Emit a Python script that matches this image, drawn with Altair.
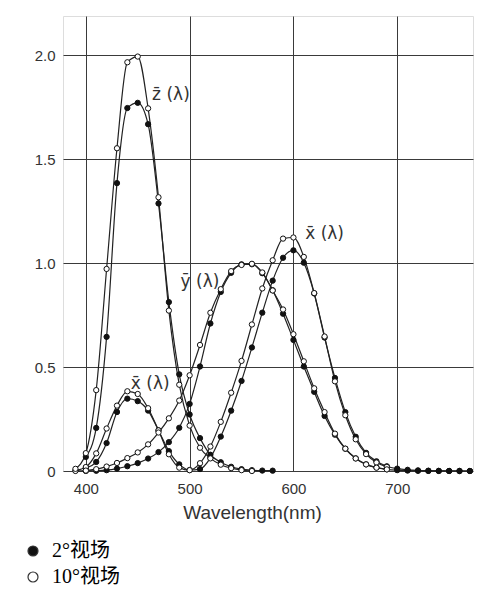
import altair as alt
import pandas as pd

# CIE 1931 2° observer (shown 400-770 nm)
wl2 = list(range(400, 780, 10))
x2 = [0.01431, 0.04351, 0.13438, 0.2839, 0.34828, 0.3362, 0.2908, 0.19536, 0.09564, 0.03201,
      0.0049, 0.0093, 0.06327, 0.1655, 0.2904, 0.43345, 0.5945, 0.7621, 0.9163, 1.0263,
      1.0622, 1.0026, 0.85445, 0.6424, 0.4479, 0.2835, 0.1649, 0.0874, 0.04677, 0.0227,
      0.01136, 0.00579, 0.0029, 0.00144, 0.00069, 0.00033, 0.00017, 0.00008]
y2 = [0.0004, 0.00121, 0.004, 0.0116, 0.023, 0.038, 0.06, 0.09098, 0.13902, 0.20802,
      0.323, 0.503, 0.71, 0.862, 0.954, 0.99495, 0.995, 0.952, 0.87, 0.757,
      0.631, 0.503, 0.381, 0.265, 0.175, 0.107, 0.061, 0.032, 0.017, 0.00821,
      0.0041, 0.00209, 0.00105, 0.00052, 0.00025, 0.00012, 0.00006, 0.00003]
wl2z = list(range(400, 590, 10))
z2 = [0.06785, 0.2074, 0.6456, 1.3856, 1.74706, 1.77211, 1.6692, 1.28764, 0.81295, 0.46518,
      0.272, 0.1582, 0.07825, 0.04216, 0.0203, 0.00875, 0.0039, 0.0021, 0.00165]

# CIE 1964 10° observer (shown 390-690 nm)
wl10 = list(range(390, 700, 10))
x10 = [0.00236, 0.01911, 0.08474, 0.20449, 0.31468, 0.38373, 0.3707, 0.30227, 0.19562, 0.08051,
       0.01617, 0.00382, 0.03747, 0.11775, 0.23649, 0.37677, 0.52983, 0.70522, 0.87866, 1.01416,
       1.11852, 1.12399, 1.03048, 0.8563, 0.64747, 0.43157, 0.26833, 0.15257, 0.08126, 0.04085,
       0.01994]
y10 = [0.00025, 0.002, 0.00876, 0.02139, 0.03868, 0.06208, 0.08946, 0.1282, 0.18519, 0.25359,
       0.33913, 0.46078, 0.60674, 0.76176, 0.87521, 0.96199, 0.99176, 0.99734, 0.95555, 0.86893,
       0.77741, 0.65834, 0.52796, 0.39806, 0.28349, 0.17983, 0.10763, 0.06028, 0.0318, 0.01591,
       0.00775]
wl10z = list(range(390, 570, 10))
z10 = [0.01048, 0.08601, 0.38937, 0.97254, 1.55348, 1.96728, 1.9948, 1.74537, 1.31756, 0.77213,
       0.41525, 0.2185, 0.11204, 0.06071, 0.03045, 0.01368, 0.00399, 0.0]

legend_labels = ["2°视场", "10°视场"]

rows = []
def add(wls, vals, fn, obs):
    for w, v in zip(wls, vals):
        rows.append({"wl": w, "v": v, "fn": fn, "obs": obs, "key": fn + obs})

add(wl2, x2, "x", legend_labels[0])
add(wl2, y2, "y", legend_labels[0])
add(wl2z, z2, "z", legend_labels[0])
add(wl10, x10, "x", legend_labels[1])
add(wl10, y10, "y", legend_labels[1])
add(wl10z, z10, "z", legend_labels[1])
df = pd.DataFrame(rows)

ann_text = ["z\u0304 (λ)", "y\u0304 (λ)", "x\u0304 (λ)", "x\u0304 (λ)"]
ann_x = [482, 510, 630, 462]
ann_y = [1.81, 0.91, 1.14, 0.42]
ann = pd.DataFrame({"t": ann_text, "wl": ann_x, "v": ann_y})

xscale = alt.Scale(domain=[378, 773], nice=False, zero=False)
yscale = alt.Scale(domain=[0, 2.19], nice=False)

xaxis = alt.Axis(values=[400, 500, 600, 700], title="Wavelength(nm)", grid=True,
                 gridColor="#3a3a3a", gridOpacity=1, ticks=False, domain=False,
                 labelFontSize=15, labelColor="#333", labelFont="Liberation Sans",
                 labelPadding=10, titleFontSize=19, titleFontWeight="normal",
                 titleColor="#333", titleFont="Liberation Sans", titlePadding=7,
                 titleX=189)
yaxis = alt.Axis(values=[0, 0.5, 1.0, 1.5, 2.0], title=None, grid=True,
                 gridColor="#3a3a3a", gridOpacity=1, ticks=False, domain=False,
                 labelExpr="datum.value == 0 ? '0' : format(datum.value, '.1f')",
                 labelFontSize=15, labelColor="#333", labelFont="Liberation Sans",
                 labelPadding=8)

lines = alt.Chart(df).mark_line(interpolate="monotone", color="#222", strokeWidth=1.2).encode(
    x=alt.X("wl:Q", scale=xscale, axis=xaxis),
    y=alt.Y("v:Q", scale=yscale, axis=yaxis),
    detail="key:N",
)

points = alt.Chart(df).mark_point(filled=False, size=28, stroke="#111", strokeWidth=1, opacity=1).encode(
    x="wl:Q",
    y="v:Q",
    fill=alt.Fill("obs:N", scale=alt.Scale(domain=legend_labels, range=["#111", "white"]),
                  legend=alt.Legend(title=None, orient="none", legendX=-40, legendY=525,
                                    symbolType="circle", symbolSize=100,
                                    symbolStrokeColor="#333", symbolStrokeWidth=1.2,
                                    labelFont="Liberation Serif, Noto Sans CJK SC",
                                    labelFontSize=20, labelColor="#000",
                                    rowPadding=6, labelOffset=9)),
)

labels = alt.Chart(ann).mark_text(fontSize=17, font="DejaVu Sans", color="#333", align="center").encode(
    x="wl:Q", y="v:Q", text="t:N"
)

chart = alt.layer(lines, points, labels).properties(
    width=410, height=455,
    autosize=alt.AutoSizeParams(type="none"),
    padding={"left": 55, "top": 8, "right": 10, "bottom": 125},
).configure_view(stroke="#333", strokeWidth=1.2).configure(background="white")

chart.save("out.html", embed_options={"renderer": "svg", "actions": False})
